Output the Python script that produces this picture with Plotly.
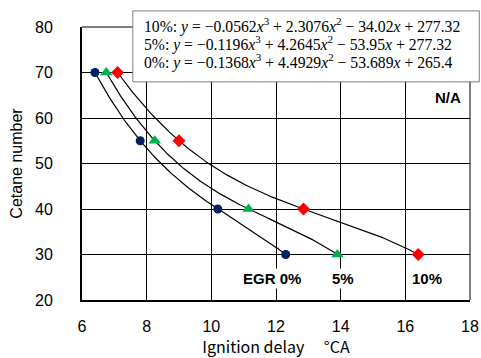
import numpy as np
import plotly.graph_objects as go

# Data
egr0_x = [6.4, 7.8, 10.2, 12.3]
egr0_y = [70, 55, 40, 30]
egr5_x = [6.75, 8.25, 11.15, 13.9]
egr5_y = [70, 55, 40, 30]
egr10_x = [7.1, 9.0, 12.85, 16.4]
egr10_y = [70, 55, 40, 30]

eq_lines = [
    "10%: <i>y</i> = −0.0562<i>x</i><sup>3</sup> + 2.3076<i>x</i><sup>2</sup> − 34.02<i>x</i> + 277.32",
    "5%: <i>y</i> = −0.1196<i>x</i><sup>3</sup> + 4.2645<i>x</i><sup>2</sup> − 53.95<i>x</i> + 277.32",
    "0%: <i>y</i> = −0.1368<i>x</i><sup>3</sup> + 4.4929<i>x</i><sup>2</sup> − 53.689<i>x</i> + 265.4",
]
x_ticks = [6, 8, 10, 12, 14, 16, 18]
y_ticks = [20, 30, 40, 50, 60, 70, 80]

fig = go.Figure()

series = [
    (egr0_x, egr0_y, "circle", 9, "#002060"),
    (egr5_x, egr5_y, "triangle-up", 11, "#00B050"),
    (egr10_x, egr10_y, "diamond", 10, "#FF0000"),
]

for xs, ys, sym, sz, col in series:
    coef = np.polyfit(xs, ys, 3)
    xx = np.linspace(min(xs), max(xs), 200)
    fig.add_trace(go.Scatter(x=xx, y=np.polyval(coef, xx), mode="lines",
                             line=dict(color="black", width=1.2),
                             hoverinfo="skip", showlegend=False))
for xs, ys, sym, sz, col in series:
    fig.add_trace(go.Scatter(x=xs, y=ys, mode="markers",
                             marker=dict(symbol=sym, size=sz, color=col),
                             showlegend=False))

axis_font = dict(family="Liberation Sans, Arial, sans-serif", size=16, color="black")

fig.update_xaxes(range=[6, 18], tickvals=x_ticks, showgrid=True, gridcolor="black",
                 gridwidth=1, showline=True, linecolor="black", linewidth=2,
                 mirror=False, zeroline=False, ticks="", tickfont=axis_font,
                 ticklabelstandoff=11, automargin=False,
                 title=dict(text="Ignition delay \u3000\u00b0CA",
                            font=dict(family="Noto Sans CJK JP", size=16, color="black"),
                            standoff=9))
fig.update_yaxes(range=[20, 80], tickvals=y_ticks, showgrid=True, gridcolor="black",
                 gridwidth=1, showline=True, linecolor="black", linewidth=2,
                 zeroline=False, ticks="", tickfont=axis_font,
                 ticklabelstandoff=24, automargin=False,
                 title=dict(text="Cetane number", font=axis_font, standoff=8))

# top and right frame lines
fig.add_shape(type="line", xref="paper", yref="paper", x0=0, x1=1, y0=1, y1=1,
              line=dict(color="black", width=1))
fig.add_shape(type="line", xref="paper", yref="paper", x0=1, x1=1, y0=0, y1=1,
              line=dict(color="black", width=1))

# equation box
fig.add_shape(type="rect", xref="paper", yref="paper", x0=0.131, x1=1.024,
              y0=0.799, y1=1.059, fillcolor="white", line=dict(color="#7f7f7f", width=1),
              layer="above")
for t, yp in zip(eq_lines, [1.004, 0.938, 0.872]):
    fig.add_annotation(text=t, xref="paper", yref="paper", x=0.155, y=yp,
                       xanchor="left", yanchor="middle", showarrow=False,
                       font=dict(family="Liberation Serif", size=15.7, color="black"))

lab_font = dict(family="Liberation Sans, Arial, sans-serif", size=15, color="black")
fig.add_annotation(text="<b>N/A</b>", x=17.32, y=64.6, showarrow=False, font=lab_font)
for t, xv in [("<b>EGR 0%</b>", 11.88), ("<b>5%</b>", 14.07), ("<b>10%</b>", 16.67)]:
    fig.add_annotation(text=t, x=xv, y=24.8, showarrow=False, font=lab_font,
                       bgcolor="white")

fig.update_layout(width=481, height=358, margin=dict(l=82, r=11, t=27, b=58),
                  plot_bgcolor="white", paper_bgcolor="white")

fig.write_html("out.html", config={"displayModeBar": False},
               post_script="document.body.style.margin='0';document.body.style.overflow='hidden';")
